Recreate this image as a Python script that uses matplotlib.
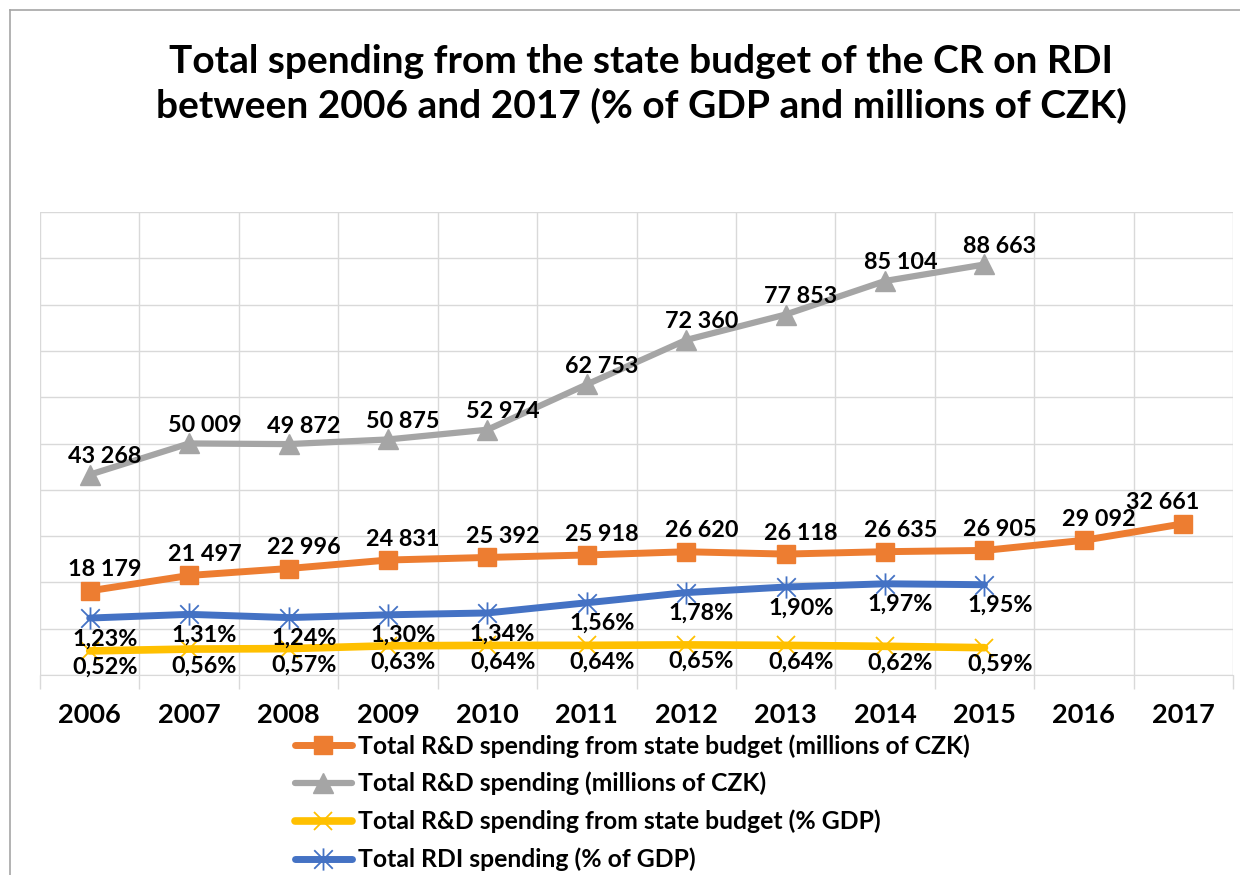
import matplotlib
matplotlib.use("Agg")
import matplotlib.pyplot as plt
from matplotlib.path import Path
from matplotlib.lines import Line2D

plt.rcParams['font.family'] = ['Lato', 'DejaVu Sans']
plt.rcParams['font.weight'] = 'bold'

# Data
years = ['2006', '2007', '2008', '2009', '2010', '2011', '2012', '2013', '2014', '2015', '2016', '2017']
state_budget_czk = [18179, 21497, 22996, 24831, 25392, 25918, 26620, 26118, 26635, 26905, 29092, 32661]
total_rd_czk = [43268, 50009, 49872, 50875, 52974, 62753, 72360, 77853, 85104, 88663]
state_budget_gdp = [0.52, 0.56, 0.57, 0.63, 0.64, 0.64, 0.65, 0.64, 0.62, 0.59]
total_rdi_gdp = [1.23, 1.31, 1.24, 1.30, 1.34, 1.56, 1.78, 1.90, 1.97, 1.95]

labels = ['Total R&D spending from state budget (millions of CZK)',
          'Total R&D spending (millions of CZK)',
          'Total R&D spending from state budget (% GDP)',
          'Total RDI spending (% of GDP)']

ORANGE = '#ED7D31'
GRAY = '#A5A5A5'
YELLOW = '#FFC000'
BLUE = '#4472C4'

# Marker "star" de Excel: X + trait vertical
star = Path([(-1, -1), (1, 1), (-1, 1), (1, -1), (0, -1.2), (0, 1.2)],
            [Path.MOVETO, Path.LINETO, Path.MOVETO, Path.LINETO, Path.MOVETO, Path.LINETO])


def fmt_czk(v):
    return f"{v:,}".replace(',', ' ')


def fmt_pct(v):
    return f"{v:.2f}%".replace('.', ',')


fig = plt.figure(figsize=(12.4, 8.75), dpi=100)
ax = fig.add_axes([40 / 1240, 1 - 675 / 875, 1193 / 1240, 463 / 875])
ax2 = ax.twinx()

x_all = list(range(len(years)))
x_10 = x_all[:len(total_rd_czk)]

l1, = ax.plot(x_all, state_budget_czk, color=ORANGE, lw=5, marker='s', ms=13,
              solid_capstyle='round', zorder=3)
l2, = ax.plot(x_10, total_rd_czk, color=GRAY, lw=4.5, marker='^', ms=14,
              solid_capstyle='round', zorder=3)
l3, = ax2.plot(x_10, state_budget_gdp, color=YELLOW, lw=5.5, marker='x', ms=13, mew=1.3,
               solid_capstyle='round', zorder=3)
l4, = ax2.plot(x_10, total_rdi_gdp, color=BLUE, lw=5, marker=star, ms=16, mew=1.3,
               mfc='none', mec=BLUE, solid_capstyle='round', zorder=3)

ax.set_xlim(-0.5, len(years) - 0.5)
ax.set_ylim(0, 100000)
ax2.set_ylim(0, 10)

# Grille
ax.set_yticks(range(0, 100001, 10000))
ax.set_xticks([i - 0.5 for i in range(len(years) + 1)])
ax.grid(True, color='#d9d9d9', lw=1)
ax.set_axisbelow(True)
ax.tick_params(axis='y', length=0, labelleft=False)
ax.tick_params(axis='x', length=10, color='#d9d9d9', width=1, labelbottom=False)
ax2.set_yticks([])
for a in (ax, ax2):
    for s in a.spines.values():
        s.set_visible(False)
ax.spines['bottom'].set_visible(True)
ax.spines['bottom'].set_color('#d9d9d9')

for i, y in enumerate(years):
    ax.text(i, -0.087, y, transform=ax.get_xaxis_transform(), ha='center', va='center',
            fontsize=19.5, fontweight='bold')

# Etiquettes de données
fs = 16.8
for i, v in enumerate(state_budget_czk):
    dx = -15 if i == len(state_budget_czk) - 1 else 11
    ax2.annotate(fmt_czk(v), (i, v), xycoords=ax.transData, xytext=(dx, 15),
                 textcoords='offset points', ha='center', va='center', fontsize=fs,
                 fontweight='bold', zorder=5)
for i, v in enumerate(total_rd_czk):
    ax2.annotate(fmt_czk(v), (i, v), xycoords=ax.transData, xytext=(11, 13),
                 textcoords='offset points', ha='center', va='center', fontsize=fs,
                 fontweight='bold', zorder=5)
for i, v in enumerate(total_rdi_gdp):
    ax2.annotate(fmt_pct(v), (i, v), xytext=(11, -15), textcoords='offset points',
                 ha='center', va='center', fontsize=fs, fontweight='bold', zorder=5)
for i, v in enumerate(state_budget_gdp):
    ax2.annotate(fmt_pct(v), (i, v), xytext=(11, -12), textcoords='offset points',
                 ha='center', va='center', fontsize=fs, fontweight='bold', zorder=5)

# Titre
fig.text(0.517, 1 - 84 / 875, 'Total spending from the state budget of the CR on RDI\n'
         'between 2006 and 2017 (% of GDP and millions of CZK)',
         ha='center', va='center', fontsize=28, fontweight='bold', linespacing=1.3)

# Légende
fig.legend([l1, l2, l3, l4], labels, loc='upper left', bbox_to_anchor=(295 / 1240, 1 - 734 / 875),
           frameon=False, fontsize=17.8, handlelength=2.3, handletextpad=0.25, labelspacing=0.58,
           borderpad=0, borderaxespad=0)

# Bordure du graphique
fig.add_artist(Line2D([10 / 1240, 1], [1 - 10 / 875, 1 - 10 / 875], color='#a6a6a6', lw=1.2,
                      transform=fig.transFigure))
fig.add_artist(Line2D([10 / 1240, 10 / 1240], [0, 1 - 10 / 875], color='#a6a6a6', lw=1.2,
                      transform=fig.transFigure))

fig.savefig('out.png', dpi=100)
